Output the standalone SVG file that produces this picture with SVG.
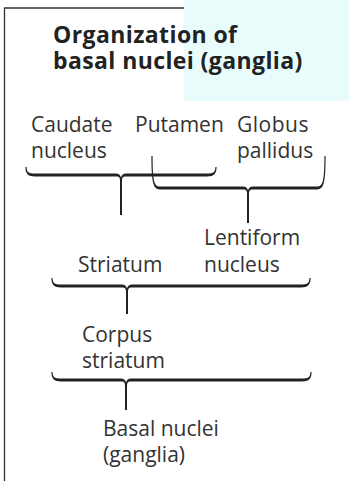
<svg xmlns="http://www.w3.org/2000/svg" width="349" height="481" viewBox="0 0 349 481">
<style>
.t{font-family:"Open Sans","Liberation Sans",sans-serif;font-size:21px;fill:#333}
.h{font-family:"Open Sans","Liberation Sans",sans-serif;font-size:23px;font-weight:bold;letter-spacing:0.4px;fill:#222}
.br{fill:#222;stroke:none}
.st{stroke:#222;stroke-width:2;fill:none}
.fr{stroke:#333;stroke-width:1.3;fill:none}
</style>
<rect x="0" y="0" width="349" height="481" fill="#fff"/>
<rect x="184" y="0" width="165" height="101" fill="#e8fcfc"/>
<path class="fr" d="M4.5,481 V8 H184"/>
<g id="title">
<text class="h"><tspan x="53" y="43">Organization of</tspan><tspan x="53" y="69">basal nuclei (ganglia)</tspan></text>
</g>
<g id="caudate"><text class="t" x="31" y="132">Caudate</text><text class="t" x="31" y="158">nucleus</text></g>
<g id="putamen"><text class="t" x="135" y="132">Putamen</text></g>
<g id="globus"><text class="t" x="237" y="132" letter-spacing="0.5">Globus</text><text class="t" x="237" y="158">pallidus</text></g>
<g id="lentiform"><text class="t" x="204" y="245">Lentiform</text><text class="t" x="204" y="272">nucleus</text></g>
<g id="striatum"><text class="t" x="78" y="272">Striatum</text></g>
<g id="corpus"><text class="t" x="82" y="342">Corpus</text><text class="t" x="82" y="368">striatum</text></g>
<g id="basal"><text class="t" x="103" y="436">Basal nuclei</text><text class="t" x="103" y="462">(ganglia)</text></g>
<g id="connectors">
<path class="br" d="M 25.4,167 C 25.4,173.5 28,176.5 35,176.5 L 117,176.5 Q 120,176.5 120,180.5 L 122,180.5 Q 122,176.5 125,176.5 L 207,176.5 C 214,176.5 216.6,173.5 216.6,167 L 215.4,167 C 215.4,172.5 213,173.5 207,173.5 L 126,173.5 Q 122,173.5 121,177.5 Q 120,173.5 116,173.5 L 35,173.5 C 29,173.5 26.6,172.5 26.6,167 Z"/>
<path class="st" d="M121,177 V215"/>
<path class="br" d="M 151.4,156 C 151.4,186.5 154,189.5 161,189.5 L 244,189.5 Q 247,189.5 247,193.5 L 249,193.5 Q 249,189.5 252,189.5 L 316,189.5 C 323,189.5 325.6,186.5 325.6,156 L 324.4,156 C 324.4,185.5 322,186.5 316,186.5 L 253,186.5 Q 249,186.5 248,190.5 Q 247,186.5 243,186.5 L 161,186.5 C 155,186.5 152.6,185.5 152.6,156 Z"/>
<path class="st" d="M248,190 V223"/>
<path class="br" d="M 51.4,278 C 51.4,284.5 54,287.5 61,287.5 L 123,287.5 Q 126,287.5 126,291.5 L 128,291.5 Q 128,287.5 131,287.5 L 301,287.5 C 308,287.5 310.6,284.5 310.6,278 L 309.4,278 C 309.4,283.5 307,284.5 301,284.5 L 132,284.5 Q 128,284.5 127,288.5 Q 126,284.5 122,284.5 L 61,284.5 C 55,284.5 52.6,283.5 52.6,278 Z"/>
<path class="st" d="M127,288 V314"/>
<path class="br" d="M 51.4,372 C 51.4,378.5 54,381.5 61,381.5 L 122,381.5 Q 125,381.5 125,385.5 L 127,385.5 Q 127,381.5 130,381.5 L 302,381.5 C 309,381.5 311.6,378.5 311.6,372 L 310.4,372 C 310.4,377.5 308,378.5 302,378.5 L 131,378.5 Q 127,378.5 126,382.5 Q 125,378.5 121,378.5 L 61,378.5 C 55,378.5 52.6,377.5 52.6,372 Z"/>
<path class="st" d="M126,382 V410"/>
</g>
</svg>
